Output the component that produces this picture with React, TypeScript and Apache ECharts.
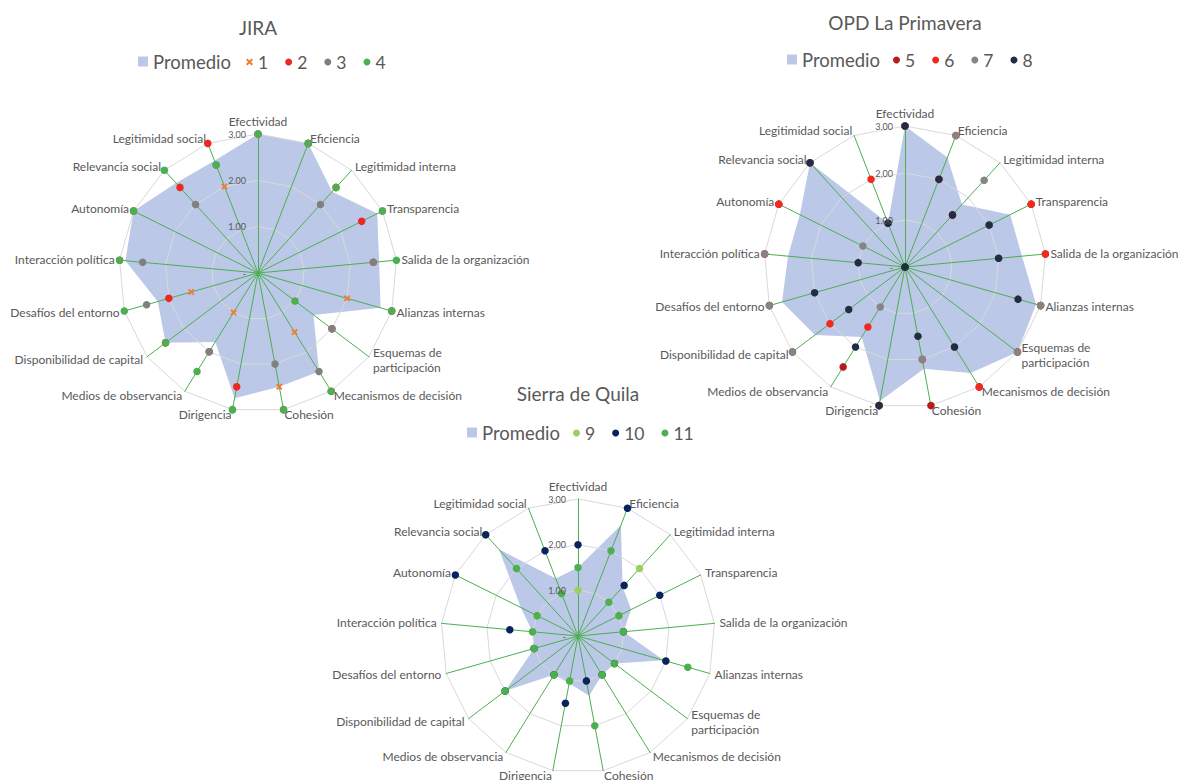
import React, { useEffect, useRef } from "react";
import * as echarts from "echarts";

// ---------- data ----------
const AXES = [
  "Efectividad",
  "Eficiencia",
  "Legitimidad interna",
  "Transparencia",
  "Salida de la organización",
  "Alianzas internas",
  "Esquemas de\nparticipación",
  "Mecanismos de decisión",
  "Cohesión",
  "Dirigencia",
  "Medios de observancia",
  "Disponibilidad de capital",
  "Desafíos del entorno",
  "Interacción política",
  "Autonomía",
  "Relevancia social",
  "Legitimidad social",
];

const TITLES = ["JIRA", "OPD La Primavera", "Sierra de Quila"];

// JIRA
const jiraPromedio = [3, 3, 2.375, 2.875, 2.625, 2.75, 1.5, 2.5, 2.5, 2.75, 1.75, 2.5, 2.25, 2.875, 3, 2.625, 2.6];
const jira1 = [3, 3, 2.5, 3, 2.5, 2, 1, 1.5, 2.5, 2.5, 1, 2.5, 1.5, 3, 3, 3, 2];
const jira2 = [3, 3, 2.5, 2.5, 2.5, 3, 2, 3, 3, 2.5, 2, 2.5, 2, 3, 3, 2.5, 3];
const jira3 = [3, 3, 2, 3, 2.5, 3, 2, 2.5, 2, 3, 2, 2.5, 2.5, 2.5, 3, 2, 2.5];
const jira4 = [3, 3, 2.5, 3, 3, 3, 1, 3, 3, 3, 2.5, 2.5, 3, 3, 3, 3, 2.5];

// OPD La Primavera
const opdPromedio = [3, 2.5, 1.8, 2.5, 2.5, 2.9, 3, 2.65, 2.2, 2.9, 1.75, 2.4, 2.72, 2.5, 2.5, 3, 1];
const opd5 = [3, 3, 1.5, 3, 3, 3, 3, 3, 3, 3, 2.5, 3, 3, 3, 3, 3, 1];
const opd6 = [3, 2, 1.5, 3, 3, 3, 3, 3, 2, 3, 1.5, 2, 3, 3, 3, 3, 2];
const opd7 = [3, 3, 2.5, 2, 2, 3, 3, 2, 2, 3, 1, 3, 3, 3, 1, 3, 1];
const opd8 = [3, 2, 1.5, 2, 2, 2.5, 0, 2, 1.5, 3, 2, 1.5, 2, 1, 0, 3, 1];

// Sierra de Quila
const sqPromedio = [1.5, 2.6, 1.45, 1.3, 1, 1.95, 1, 1, 1.33, 1.05, 1, 2, 1, 1, 1.4, 2.57, 1.35];
const sq9 = [1, 3, 2, 1, 1, 2, 1, 1, 1, 1, 1, 2, 1, 1, 1, 3, 1];
const sq10 = [2, 3, 1.5, 2, 1, 2, 1, 1, 1, 1.5, 1, 2, 1, 1.5, 3, 3, 2];
const sq11 = [1.5, 2, 1, 1, 1, 2.5, 1, 1, 2, 1, 1, 2, 1, 1, 1, 2, 1];

const SCALE_MAX = 3;
const SCALE_STEP = 1;

// ---------- styles / layout ----------
const FONT = "Lato, 'Noto Sans', sans-serif";
const TEXT = "#595959";
const GRID = "#D9D9D9";
const SPOKE = "#4CAF50";
const FILL = "#BCC8E7";
const X_PATH =
  "path://M2,0 L5,3 L8,0 L10,2 L7,5 L10,8 L8,10 L5,7 L2,10 L0,8 L3,5 L0,2 Z";

const PANELS = [
  {
    promedio: jiraPromedio,
    series: [
      { name: "1", values: jira1, color: "#ED7D31", symbol: "x" },
      { name: "2", values: jira2, color: "#EA2A20" },
      { name: "3", values: jira3, color: "#808080" },
      { name: "4", values: jira4, color: "#4CAF50" },
    ],
  },
  {
    promedio: opdPromedio,
    series: [
      { name: "5", values: opd5, color: "#B71C1C" },
      { name: "6", values: opd6, color: "#F02A1E" },
      { name: "7", values: opd7, color: "#858585" },
      { name: "8", values: opd8, color: "#232C45" },
    ],
  },
  {
    promedio: sqPromedio,
    series: [
      { name: "9", values: sq9, color: "#9BCF5F" },
      { name: "10", values: sq10, color: "#0B2260" },
      { name: "11", values: sq11, color: "#4CAF50" },
    ],
  },
];

const LAYOUT = [
  { cx: 258, cy: 273, r: 139, titleY: 27, legY: 62, promX: 138, numX: 246 },
  { cx: 905, cy: 267, r: 141, titleY: 22, legY: 60, promX: 787, numX: 893 },
  { cx: 578, cy: 636, r: 137, titleY: 393, legY: 433, promX: 467, numX: 573 },
];

export default function App() {
  const ref = useRef<HTMLDivElement>(null);
  useEffect(() => {
    const chart = echarts.init(ref.current!, null, { renderer: "svg" });
    const n = AXES.length;
    // ECharts radar runs counter-clockwise; reorder so axes go clockwise like the source
    const order = AXES.map((_, j) => (n - j) % n);
    const reorder = (a: number[]) => order.map((i) => a[i]);

    const radar: any[] = [];
    const polar: any[] = [];
    const angleAxis: any[] = [];
    const radiusAxis: any[] = [];
    const series: any[] = [];
    const legend: any[] = [];
    const graphic: any[] = [];

    PANELS.forEach((p, k) => {
      const L = LAYOUT[k];
      radar.push({
        center: [L.cx, L.cy],
        radius: L.r,
        startAngle: 90,
        splitNumber: SCALE_MAX / SCALE_STEP,
        shape: "polygon",
        z: 2,
        nameGap: 5,
        indicator: order.map((i) => ({ name: AXES[i], min: 0, max: SCALE_MAX })),
        axisName: { color: TEXT, fontSize: 12, fontFamily: FONT, lineHeight: 15 },
        splitLine: { lineStyle: { color: GRID, width: 1 } },
        splitArea: { show: false },
        axisLine: { lineStyle: { color: SPOKE, width: 1 } },
        axisTick: { show: false },
        axisLabel: { show: false },
      });
      polar.push({ center: [L.cx, L.cy], radius: L.r });
      angleAxis.push({ polarIndex: k, startAngle: 90, min: 0, max: 360, show: false });
      radiusAxis.push({
        polarIndex: k,
        min: 0,
        max: SCALE_MAX,
        interval: SCALE_STEP,
        z: 4,
        axisLine: { show: false },
        axisTick: { show: false },
        splitLine: { show: false },
        axisLabel: {
          formatter: (v: number) => (v === 0 ? "-" : v.toFixed(2)),
          fontSize: 9,
          color: TEXT,
          fontFamily: FONT,
          margin: 12,
        },
      });
      series.push({
        type: "radar",
        radarIndex: k,
        name: "Promedio",
        z: 1,
        symbol: "none",
        lineStyle: { width: 0, opacity: 0 },
        areaStyle: { color: FILL, opacity: 1 },
        itemStyle: { color: FILL },
        data: [{ value: reorder(p.promedio), name: "Promedio" }],
      });
      p.series.forEach((s: any) => {
        series.push({
          type: "radar",
          radarIndex: k,
          name: s.name,
          z: 3,
          symbol: s.symbol === "x" ? X_PATH : "circle",
          symbolSize: s.symbol === "x" ? 6.5 : 7.5,
          lineStyle: { width: 0, opacity: 0 },
          itemStyle: { color: s.color },
          data: [{ value: reorder(s.values), name: s.name }],
        });
      });
      legend.push({
        left: L.promX,
        top: L.legY - 10,
        padding: 0,
        itemWidth: 10,
        itemHeight: 10,
        selectedMode: false,
        data: [{ name: "Promedio", icon: "rect" }],
        textStyle: { fontSize: 18.5, color: TEXT, fontFamily: FONT },
      });
      legend.push({
        left: L.numX,
        top: L.legY - 9,
        padding: 0,
        itemWidth: 7,
        itemHeight: 7,
        itemGap: 17,
        selectedMode: false,
        data: p.series.map((s: any) => ({
          name: s.name,
          icon: s.symbol === "x" ? X_PATH : "circle",
        })),
        textStyle: { fontSize: 17.5, color: TEXT, fontFamily: FONT },
      });
      graphic.push({
        type: "text",
        x: L.cx,
        y: L.titleY,
        style: {
          text: TITLES[k],
          fontSize: 19,
          fontFamily: FONT,
          fill: TEXT,
          align: "center",
          verticalAlign: "middle",
        },
      });
    });

    chart.setOption({
      animation: false,
      backgroundColor: "#ffffff",
      radar,
      polar,
      angleAxis,
      radiusAxis,
      series,
      legend,
      graphic,
    });
    return () => chart.dispose();
  }, []);
  return (
    <div
      ref={ref}
      style={{ position: "absolute", left: 0, top: 0, width: 1180, height: 780 }}
    />
  );
}
